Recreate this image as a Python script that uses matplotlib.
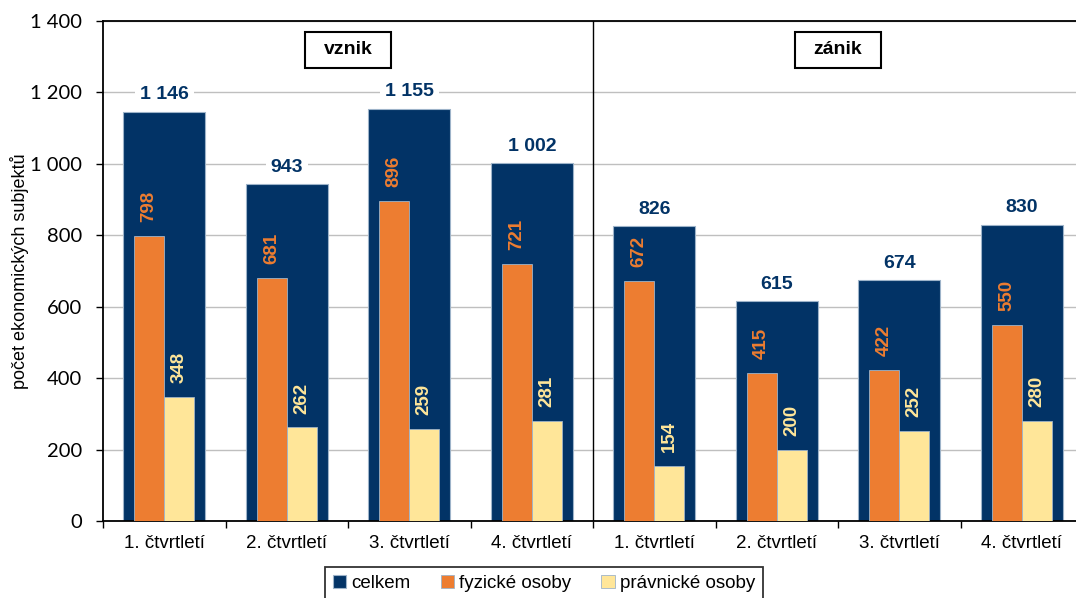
import matplotlib
matplotlib.use("Agg")
import matplotlib.pyplot as plt
from matplotlib.patches import Rectangle
from matplotlib.ticker import FuncFormatter, MultipleLocator
import numpy as np

# počty ekonomických subjektů po čtvrtletích
ctvrtleti = ['1. čtvrtletí', '2. čtvrtletí', '3. čtvrtletí', '4. čtvrtletí'] * 2
celkem = [1146, 943, 1155, 1002, 826, 615, 674, 830]
fyzicke = [798, 681, 896, 721, 672, 415, 422, 550]
pravnicke = [348, 262, 259, 281, 154, 200, 252, 280]
skupiny = ['vznik', 'zánik']

navy = '#023366'
orange = '#ED7D31'
yellow = '#FFE699'
edge = '#9DB3C9'

plt.rcParams['font.family'] = ['Liberation Sans', 'DejaVu Sans']

fig = plt.figure(figsize=(10.76, 5.98), dpi=100)
ax = fig.add_axes([103 / 1076, 1 - 521 / 598, 980 / 1076, 500 / 598])

x = np.arange(len(celkem))
ax.bar(x, celkem, width=0.67, color=navy, edgecolor=edge, linewidth=0.8, zorder=2, label='celkem')
ax.bar(x - 0.123, fyzicke, width=0.245, color=orange, edgecolor=edge, linewidth=0.6, zorder=3, label='fyzické osoby')
ax.bar(x + 0.123, pravnicke, width=0.245, color=yellow, edgecolor=edge, linewidth=0.6, zorder=3, label='právnické osoby')

fmt = lambda v: f'{v:,}'.replace(',', ' ')

for i in x:
    ax.annotate(fmt(celkem[i]), (i, celkem[i]), xytext=(0, 6), textcoords='offset points',
                ha='center', va='bottom', fontsize=14, fontweight='bold', color=navy, zorder=5,
                bbox=dict(boxstyle='square,pad=0.25', fc='white', ec='none'))
    ax.annotate(fmt(fyzicke[i]), (i - 0.123, fyzicke[i]), xytext=(0, 10), textcoords='offset points',
                ha='center', va='bottom', rotation=90, fontsize=13.5, fontweight='bold', color=orange, zorder=5)
    ax.annotate(fmt(pravnicke[i]), (i + 0.123, pravnicke[i]), xytext=(0, 10), textcoords='offset points',
                ha='center', va='bottom', rotation=90, fontsize=13.5, fontweight='bold', color=yellow, zorder=5)

# dělicí čára mezi vznikem a zánikem
ax.axvline(3.5, color='black', linewidth=1, zorder=4)

# popisky skupin v rámečcích
for j, name in enumerate(skupiny):
    cx = 1.5 + 4 * j
    ax.add_patch(Rectangle((cx - 0.355, 1269), 0.71, 101, fc='white', ec='black', lw=1.5, zorder=5))
    ax.text(cx, 1319, name, ha='center', va='center', fontsize=14, fontweight='bold', zorder=6)

ax.set_xlim(-0.5, 7.5)
ax.set_ylim(0, 1400)
ax.yaxis.set_major_locator(MultipleLocator(200))
ax.yaxis.set_major_formatter(FuncFormatter(lambda v, p: fmt(int(v))))
ax.grid(axis='y', color='#BFBFBF', linewidth=1, zorder=0)
ax.set_axisbelow(True)

ax.set_xticks(x)
ax.set_xticklabels(ctvrtleti, fontsize=13.5)
ax.set_xticks(np.arange(-0.5, 8, 1), minor=True)
ax.tick_params(axis='x', which='major', length=0, pad=10)
ax.tick_params(axis='x', which='minor', length=5, width=1, direction='out')
ax.tick_params(axis='y', length=5, width=1, direction='out', pad=10)
for lab in ax.get_yticklabels():
    lab.set_fontfamily('Lato')
    lab.set_fontsize(14.5)

for s in ['left', 'bottom', 'top']:
    ax.spines[s].set_linewidth(1.3)
ax.spines['right'].set_visible(False)

ax.set_ylabel('počet ekonomických subjektů', fontsize=13, labelpad=1)

handles, labels = ax.get_legend_handles_labels()
leg = fig.legend(handles, labels, loc='upper center', bbox_to_anchor=(544 / 1076, 1 - 567 / 598),
                 ncol=3, fontsize=13.5, frameon=True, fancybox=False, edgecolor='black',
                 handlelength=0.7, handleheight=0.7, handletextpad=0.3, columnspacing=1.6,
                 borderpad=0.4, borderaxespad=0)
leg.get_frame().set_linewidth(1.3)

fig.savefig('out.png', dpi=100)
